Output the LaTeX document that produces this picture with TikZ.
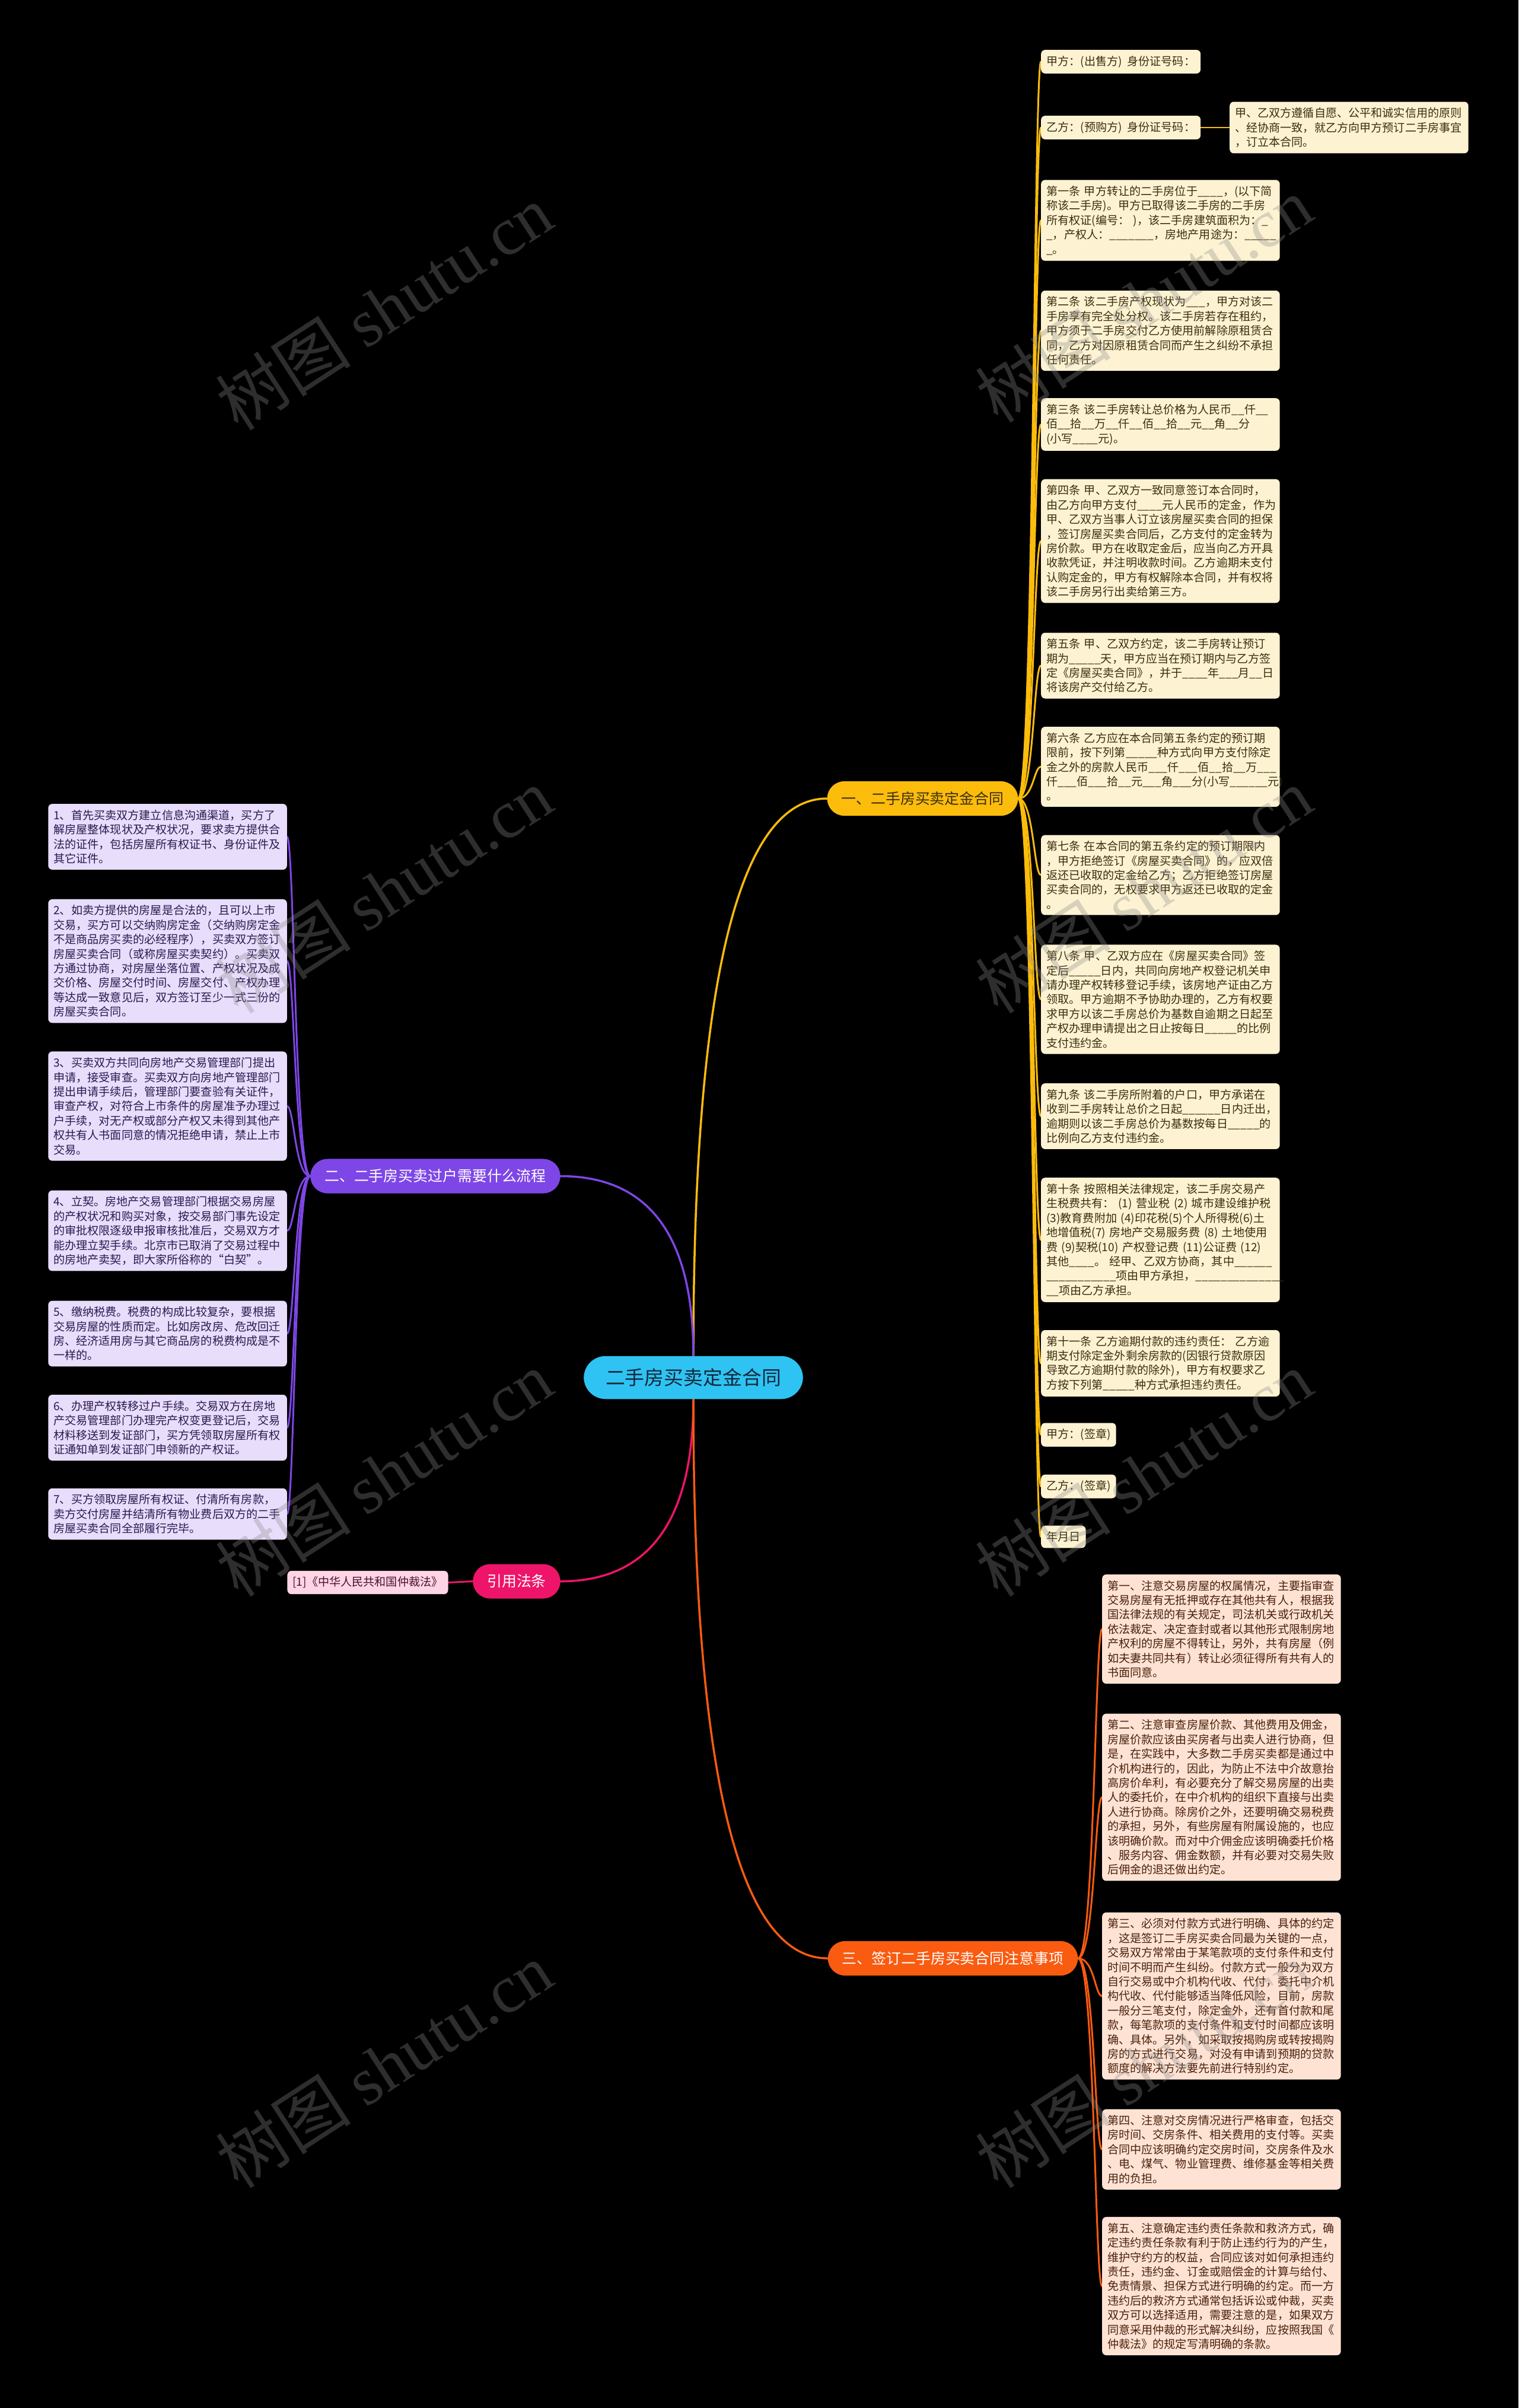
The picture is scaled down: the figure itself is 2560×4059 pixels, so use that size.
\documentclass[tikz,border=0pt]{standalone}
\usepackage{fontspec}
\setmainfont{Noto Sans CJK SC}
\newfontfamily\wmlatin{Liberation Serif}
\usetikzlibrary{calc}
\pgfdeclarelayer{bg}
\pgfsetlayers{bg,main}
\definecolor{rootc}{HTML}{2EC3F2}
\definecolor{roottxt}{HTML}{15263A}
\definecolor{yel}{HTML}{FCBC0C}
\definecolor{yelbox}{HTML}{FDF3D3}
\definecolor{yeltxt}{HTML}{3A2E0E}
\definecolor{pur}{HTML}{7E46E6}
\definecolor{purbox}{HTML}{E8DDFB}
\definecolor{purtxt}{HTML}{2A1A50}
\definecolor{mag}{HTML}{EE1469}
\definecolor{magbox}{HTML}{FDD5E5}
\definecolor{magtxt}{HTML}{4A1030}
\definecolor{org}{HTML}{F95B10}
\definecolor{orgbox}{HTML}{FEE3D4}
\definecolor{orgtxt}{HTML}{4A200C}
\definecolor{wmgray}{HTML}{8C8C8C}
\tikzset{
  txt/.style={font=\fontsize{19.2}{24.5}\selectfont},
  boxbase/.style={txt, rounded corners=7, inner xsep=9, inner ysep=10, align=left},
  wide/.style={text width=386},
  ybox/.style={boxbase, fill=yelbox, text=yeltxt, anchor=west},
  obox/.style={boxbase, wide, fill=orgbox, text=orgtxt, anchor=west},
  pbox/.style={boxbase, wide, fill=purbox, text=purtxt, anchor=east},
  mbox/.style={boxbase, fill=magbox, text=magtxt},
  branch/.style={rounded corners=29, inner xsep=24, inner ysep=17.5, font=\fontsize{25}{30}\selectfont},
  rootst/.style={fill=rootc, text=roottxt, rounded corners=37, inner xsep=37, inner ysep=21, font=\fontsize{33}{40}\selectfont},
  link/.style={line width=3, line cap=round},
  mainlink/.style={line width=3.5, line cap=round},
  wm/.style={text=wmgray, opacity=0.33, font=\fontsize{115}{120}\selectfont, rotate=33},
}
\begin{document}
\begin{tikzpicture}[x=1bp,y=-1bp]
\useasboundingbox (0,0) rectangle (2560,4059);
\begin{pgfonlayer}{bg}
\fill[black] (0,0) rectangle (2560,4059);
\end{pgfonlayer}

% root and branches
\node[rootst] (root) at (1169,2322) {二手房买卖定金合同};
\node[branch, fill=yel, text=yeltxt] (b1) at (1555.5,1346) {一、二手房买卖定金合同};
\node[branch, fill=pur, text=white] (b2) at (734,1982.5) {二、二手房买卖过户需要什么流程};
\node[branch, fill=mag, text=white] (lawb) at (871,2665.5) {引用法条};
\node[branch, fill=org, text=white] (b3) at (1606.5,3301) {三、签订二手房买卖合同注意事项};

% right column (branch 1)
\node[ybox] (a1) at (1755,104) {甲方：(出售方)~~身份证号码：};
\node[ybox] (a2) at (1755,215) {乙方：(预购方)~~身份证号码：};
\node[ybox, wide] (a2b) at (2073,215) {甲、乙双方遵循自愿、公平和诚实信用的原则\\、经协商一致，就乙方向甲方预订二手房事宜\\，订立本合同。};
\node[ybox, wide] (a3) at (1755,371.5) {第一条~甲方转让的二手房位于\_\_\_\_，(以下简\\称该二手房)。甲方已取得该二手房的二手房\\所有权证(编号：~)，该二手房建筑面积为：\_\\\_，产权人：\_\_\_\_\_\_\_，房地产用途为：\_\_\_\_\_\\\_。};
\node[ybox, wide] (a4) at (1755,557.5) {第二条~该二手房产权现状为\_\_\_，甲方对该二\\手房享有完全处分权。该二手房若存在租约，\\甲方须于二手房交付乙方使用前解除原租赁合\\同，乙方对因原租赁合同而产生之纠纷不承担\\任何责任。};
\node[ybox, wide] (a5) at (1755,715.5) {第三条~该二手房转让总价格为人民币\_\_仟\_\_\\佰\_\_拾\_\_万\_\_仟\_\_佰\_\_拾\_\_元\_\_角\_\_分\\(小写\_\_\_\_元)。};
\node[ybox, wide] (a6) at (1755,912) {第四条~甲、乙双方一致同意签订本合同时，\\由乙方向甲方支付\_\_\_\_元人民币的定金，作为\\甲、乙双方当事人订立该房屋买卖合同的担保\\，签订房屋买卖合同后，乙方支付的定金转为\\房价款。甲方在收取定金后，应当向乙方开具\\收款凭证，并注明收款时间。乙方逾期未支付\\认购定金的，甲方有权解除本合同，并有权将\\该二手房另行出卖给第三方。};
\node[ybox, wide] (a7) at (1755,1122) {第五条~甲、乙双方约定，该二手房转让预订\\期为\_\_\_\_\_天，甲方应当在预订期内与乙方签\\定《房屋买卖合同》，并于\_\_\_\_年\_\_\_月\_\_日\\将该房产交付给乙方。};
\node[ybox, wide] (a8) at (1755,1292.5) {第六条~乙方应在本合同第五条约定的预订期\\限前，按下列第\_\_\_\_\_种方式向甲方支付除定\\金之外的房款人民币\_\_\_仟\_\_\_佰\_\_拾\_\_万\_\_\_\\仟\_\_\_佰\_\_\_拾\_\_元\_\_\_角\_\_\_分(小写\_\_\_\_\_\_元)\\。};
\node[ybox, wide] (a9) at (1755,1475) {第七条~在本合同的第五条约定的预订期限内\\，甲方拒绝签订《房屋买卖合同》的，应双倍\\返还已收取的定金给乙方；乙方拒绝签订房屋\\买卖合同的，无权要求甲方返还已收取的定金\\。};
\node[ybox, wide] (a10) at (1755,1684.5) {第八条~甲、乙双方应在《房屋买卖合同》签\\定后\_\_\_\_\_日内，共同向房地产权登记机关申\\请办理产权转移登记手续，该房地产证由乙方\\领取。甲方逾期不予协助办理的，乙方有权要\\求甲方以该二手房总价为基数自逾期之日起至\\产权办理申请提出之日止按每日\_\_\_\_\_的比例\\支付违约金。};
\node[ybox, wide] (a11) at (1755,1881.5) {第九条~该二手房所附着的户口，甲方承诺在\\收到二手房转让总价之日起\_\_\_\_\_\_日内迁出，\\逾期则以该二手房总价为基数按每日\_\_\_\_\_的\\比例向乙方支付违约金。};
\node[ybox, wide] (a12) at (1755,2090) {第十条~按照相关法律规定，该二手房交易产\\生税费共有：~(1)~营业税~(2)~城市建设维护税\\(3)教育费附加~(4)印花税(5)个人所得税(6)土\\地增值税(7)~房地产交易服务费~(8)~土地使用\\费~(9)契税(10)~产权登记费~(11)公证费~(12)\\其他\_\_\_\_。~经甲、乙双方协商，其中\_\_\_\_\_\_\\\_\_\_\_\_\_\_\_\_\_\_项由甲方承担，\_\_\_\_\_\_\_\_\_\_\_\_\_\_\\\_\_项由乙方承担。};
\node[ybox, wide] (a13) at (1755,2298) {第十一条~乙方逾期付款的违约责任：~乙方逾\\期支付除定金外剩余房款的(因银行贷款原因\\导致乙方逾期付款的除外)，甲方有权要求乙\\方按下列第\_\_\_\_\_种方式承担违约责任。};
\node[ybox] (a14) at (1755,2418.5) {甲方：(签章)};
\node[ybox] (a15) at (1755,2505.5) {乙方：(签章)};
\node[ybox] (a16) at (1755,2590.5) {年月日};

% left column (branch 2)
\node[pbox] (p1) at (484,1410.5) {1、首先买卖双方建立信息沟通渠道，买方了\\解房屋整体现状及产权状况，要求卖方提供合\\法的证件，包括房屋所有权证书、身份证件及\\其它证件。};
\node[pbox] (p2) at (484,1620) {2、如卖方提供的房屋是合法的，且可以上市\\交易，买方可以交纳购房定金（交纳购房定金\\不是商品房买卖的必经程序），买卖双方签订\\房屋买卖合同（或称房屋买卖契约）。买卖双\\方通过协商，对房屋坐落位置、产权状况及成\\交价格、房屋交付时间、房屋交付、产权办理\\等达成一致意见后，双方签订至少一式三份的\\房屋买卖合同。};
\node[pbox] (p3) at (484,1864.5) {3、买卖双方共同向房地产交易管理部门提出\\申请，接受审查。买卖双方向房地产管理部门\\提出申请手续后，管理部门要查验有关证件，\\审查产权，对符合上市条件的房屋准予办理过\\户手续，对无产权或部分产权又未得到其他产\\权共有人书面同意的情况拒绝申请，禁止上市\\交易。};
\node[pbox] (p4) at (484,2074.5) {4、立契。房地产交易管理部门根据交易房屋\\的产权状况和购买对象，按交易部门事先设定\\的审批权限逐级申报审核批准后，交易双方才\\能办理立契手续。北京市已取消了交易过程中\\的房地产卖契，即大家所俗称的“白契”。};
\node[pbox] (p5) at (484,2248) {5、缴纳税费。税费的构成比较复杂，要根据\\交易房屋的性质而定。比如房改房、危改回迁\\房、经济适用房与其它商品房的税费构成是不\\一样的。};
\node[pbox] (p6) at (484,2406.5) {6、办理产权转移过户手续。交易双方在房地\\产交易管理部门办理完产权变更登记后，交易\\材料移送到发证部门，买方凭领取房屋所有权\\证通知单到发证部门申领新的产权证。};
\node[pbox] (p7) at (484,2552) {7、买方领取房屋所有权证、付清所有房款，\\卖方交付房屋并结清所有物业费后双方的二手\\房屋买卖合同全部履行完毕。};

% law
\node[mbox] (law1) at (620,2667.5) {[1]《中华人民共和国仲裁法》};

% bottom column (branch 3)
\node[obox] (o1) at (1858,2746) {第一、注意交易房屋的权属情况，主要指审查\\交易房屋有无抵押或存在其他共有人，根据我\\国法律法规的有关规定，司法机关或行政机关\\依法裁定、决定查封或者以其他形式限制房地\\产权利的房屋不得转让，另外，共有房屋（例\\如夫妻共同共有）转让必须征得所有共有人的\\书面同意。};
\node[obox] (o2) at (1858,3029.5) {第二、注意审查房屋价款、其他费用及佣金，\\房屋价款应该由买房者与出卖人进行协商，但\\是，在实践中，大多数二手房买卖都是通过中\\介机构进行的，因此，为防止不法中介故意抬\\高房价牟利，有必要充分了解交易房屋的出卖\\人的委托价，在中介机构的组织下直接与出卖\\人进行协商。除房价之外，还要明确交易税费\\的承担，另外，有些房屋有附属设施的，也应\\该明确价款。而对中介佣金应该明确委托价格\\、服务内容、佣金数额，并有必要对交易失败\\后佣金的退还做出约定。};
\node[obox] (o3) at (1858,3364.5) {第三、必须对付款方式进行明确、具体的约定\\，这是签订二手房买卖合同最为关键的一点，\\交易双方常常由于某笔款项的支付条件和支付\\时间不明而产生纠纷。付款方式一般分为双方\\自行交易或中介机构代收、代付，委托中介机\\构代收、代付能够适当降低风险，目前，房款\\一般分三笔支付，除定金外，还有首付款和尾\\款，每笔款项的支付条件和支付时间都应该明\\确、具体。另外，如采取按揭购房或转按揭购\\房的方式进行交易，对没有申请到预期的贷款\\额度的解决方法要先前进行特别约定。};
\node[obox] (o4) at (1858,3623) {第四、注意对交房情况进行严格审查，包括交\\房时间、交房条件、相关费用的支付等。买卖\\合同中应该明确约定交房时间，交房条件及水\\、电、煤气、物业管理费、维修基金等相关费\\用的负担。};
\node[obox] (o5) at (1858,3853.5) {第五、注意确定违约责任条款和救济方式，确\\定违约责任条款有利于防止违约行为的产生，\\维护守约方的权益，合同应该对如何承担违约\\责任，违约金、订金或赔偿金的计算与给付、\\免责情景、担保方式进行明确的约定。而一方\\违约后的救济方式通常包括诉讼或仲裁，买卖\\双方可以选择适用，需要注意的是，如果双方\\同意采用仲裁的形式解决纠纷，应按照我国《\\仲裁法》的规定写清明确的条款。};

% connectors
\begin{pgfonlayer}{bg}
\draw[mainlink, draw=yel] (root.north) .. controls ($(root.north)!0.667!(root.north |- b1.west)$) and ($(b1.west)!0.667!(root.north |- b1.west)$) .. (b1.west);
\draw[mainlink, draw=pur] (root.north) .. controls ($(root.north)!0.667!(root.north |- b2.east)$) and ($(b2.east)!0.667!(root.north |- b2.east)$) .. (b2.east);
\draw[mainlink, draw=mag] (root.south) .. controls ($(root.south)!0.667!(root.south |- lawb.east)$) and ($(lawb.east)!0.667!(root.south |- lawb.east)$) .. (lawb.east);
\draw[mainlink, draw=org] (root.south) .. controls ($(root.south)!0.667!(root.south |- b3.west)$) and ($(b3.west)!0.667!(root.south |- b3.west)$) .. (b3.west);
\foreach \n in {a1,a2,a3,a4,a5,a6,a7,a8,a9,a10,a11,a12,a13,a14,a15,a16}
  \draw[link, draw=yel] (b1.east) .. controls ($(b1.east)+(26,0)$) and ($(\n.west)+(-12,0)$) .. (\n.west);
\draw[link, draw=yel] (a2.east) -- (a2b.west);
\foreach \n in {p1,p2,p3,p4,p5,p6,p7}
  \draw[link, draw=pur] (b2.west) .. controls ($(b2.west)+(-26,0)$) and ($(\n.east)+(12,0)$) .. (\n.east);
\draw[link, draw=mag] (lawb.west) -- (law1.east);
\foreach \n in {o1,o2,o3,o4,o5}
  \draw[link, draw=org] (b3.east) .. controls ($(b3.east)+(28,0)$) and ($(\n.west)+(-12,0)$) .. (\n.west);
\end{pgfonlayer}

% watermarks
\foreach \wx/\wy/\wn in {647/518/w1,1928/505/w2,647/1501/w3,1928/1501/w4,647/2484/w5,1928/2484/w6,647/3481/w7,1928/3481/w8}
  \node[wm] (\wn) at (\wx,\wy) {树图~{\wmlatin shutu.cn}};
\end{tikzpicture}
\end{document}
